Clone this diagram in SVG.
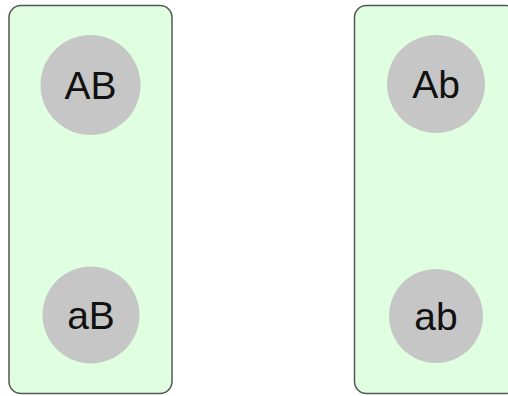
<svg xmlns="http://www.w3.org/2000/svg" width="508" height="396" viewBox="0 0 508 396">
<style>
.box{fill:#e0ffe0;stroke:#555;stroke-width:1.5}
.node circle{fill:#c6c6c6;stroke:none}
.node text{font-family:"Liberation Sans",Arial,sans-serif;font-size:39px;fill:#111;text-anchor:middle}
</style>
<rect width="508" height="396" fill="#fff"/>
<g id="groupLeft"><rect class="box" x="9" y="5.5" width="163" height="388" rx="12"/></g>
<g id="groupRight"><rect class="box" x="354.5" y="5.5" width="163" height="388" rx="12"/></g>
<g id="AB" class="node"><circle cx="90.5" cy="85" r="50"/><text x="90.5" y="99">AB</text></g>
<g id="Ab" class="node"><circle cx="436" cy="84" r="49"/><text x="436" y="98">Ab</text></g>
<g id="aB" class="node"><circle cx="91" cy="315" r="48.5"/><text x="91" y="329">aB</text></g>
<g id="ab" class="node"><circle cx="436" cy="316" r="47"/><text x="436" y="330">ab</text></g>
<g id="connectors"></g>
</svg>
